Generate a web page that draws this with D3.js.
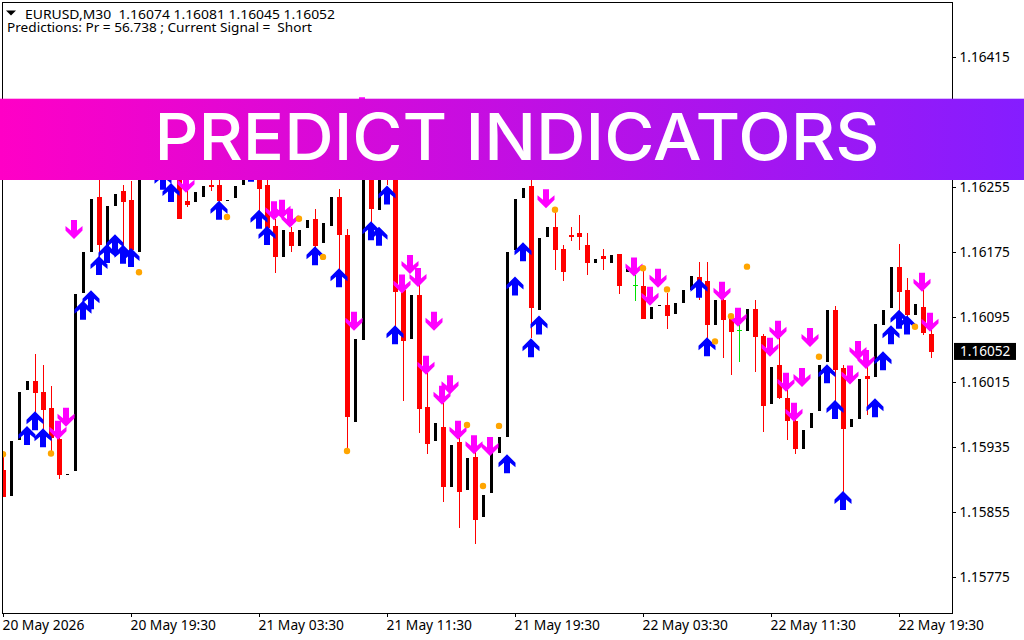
<!DOCTYPE html>
<html>
<head>
<meta charset="utf-8">
<title>Predict Indicators</title>
<script src="https://cdnjs.cloudflare.com/ajax/libs/d3/7.8.5/d3.min.js"></script>
<style>
html,body{margin:0;padding:0;background:#fff;}
svg{display:block;}
text{font-family:"Noto Sans",sans-serif;white-space:pre;}
</style>
</head>
<body>
<svg id="c" width="1024" height="640"></svg>
<script>
// Prices in points (1 point = 0.00001)
const opens=[115907,115875,115944,116005,116016,116003,115983,115945,115900,115905,116124,116175,116243,116178,116232,116250,116239,116175,116300,116320,116345,116310,116282,116238,116237,116243,116257,116257,116238,116241,116257,116278,116290,116257,116207,116169,116200,116182,116205,116216,116186,116207,116243,116196,115966,116067,116350,116227,116337,116300,116128,116068,116122,115984,115942,115960,115886,115941,115882,115923,115849,115878,115928,115947,116178,116241,116256,116104,116193,116206,116179,116196,116198,116184,116162,116170,116162,116173,116150,116134,116133,116092,116109,116110,116099,116112,116128,116144,116139,116085,116116,116092,116079,116078,116105,116072,115988,116036,115995,115967,115933,115958,115979,116040,116104,116032,115960,115969,116022,116021,116085,116106,116157,116128,116097,116107,116074];
const highs=[115923,115942,116003,116016,116050,116036,116010,115956,115902,116123,116175,116240,116276,116232,116246,116257,116262,116300,116325,116345,116360,116330,116300,116252,116249,116256,116266,116273,116239,116256,116278,116300,116300,116270,116216,116202,116206,116202,116214,116228,116211,116243,116253,116203,116068,116337,116360,116325,116345,116310,116137,116122,116134,116026,115965,115989,115938,115946,115921,115929,115876,115928,115947,116175,116240,116254,116270,116192,116206,116224,116184,116206,116221,116198,116166,116179,116171,116173,116155,116147,116153,116107,116110,116124,116112,116128,116145,116163,116163,116116,116122,116097,116085,116105,116116,116074,116033,116070,116005,115974,115956,115977,116036,116104,116109,116036,115969,116019,116038,116086,116104,116157,116185,116143,116111,116128,116081];
const lows=[115873,115875,115944,116005,115974,115956,115929,115896,115900,115905,116124,116175,116169,116178,116232,116180,116168,116175,116300,116320,116270,116265,116216,116230,116237,116243,116250,116236,116238,116241,116257,116278,116224,116200,116149,116169,116175,116182,116205,116178,116186,116207,116153,115930,115966,116067,116211,116227,116257,116083,115992,116068,115952,115926,115942,115867,115886,115835,115882,115816,115849,115878,115928,115947,116178,116241,116069,116104,116193,116153,116139,116188,116178,116147,116162,116153,116162,116123,116150,116115,116092,116092,116109,116080,116099,116112,116128,116116,116069,116085,116045,116024,116040,116078,116027,115953,115988,115994,115944,115926,115933,115958,115979,116040,115989,115880,115960,115969,115974,116021,116085,116106,116101,116094,116097,116073,116045];
const closes=[115873,115942,116003,116016,116001,115981,115946,115901,115902,116123,116175,116240,116184,116232,116246,116237,116178,116300,116325,116345,116310,116280,116216,116233,116249,116256,116255,116238,116239,116256,116278,116300,116253,116205,116169,116202,116182,116202,116214,116182,116211,116243,116196,115972,116068,116337,116228,116325,116276,116126,116065,116122,115982,115939,115965,115886,115938,115880,115921,115845,115876,115928,115947,116175,116240,116254,116106,116192,116206,116177,116150,116193,116193,116162,116166,116166,116171,116133,116155,116134,116092,116107,116110,116096,116112,116128,116145,116128,116085,116116,116091,116077,116079,116105,116070,115985,116033,115995,115967,115933,115956,115977,116036,116104,116030,115957,115969,116019,116019,116086,116104,116157,116126,116097,116111,116075,116052];
const upIdx=[3,4,5,10,11,12,13,14,15,16,20,21,27,31,32,33,39,42,46,47,48,49,63,64,65,66,67,87,88,103,104,105,109,110,111,112,113];
const upVal=[115961,115979,115958,116115,116128,116170,116185,116197,116184,116180,116275,116260,116238,116285,116227,116207,116182,116155,116213,116206,116257,116085,115926,116145,116187,116069,116097,116142,116070,116037,115993,115881,115995,116053,116085,116104,116097];
const dnIdx=[7,8,9,23,34,35,36,44,45,50,51,52,53,54,55,56,57,59,61,68,79,81,82,90,92,96,97,98,99,100,101,106,107,108,115,116];
const dnVal=[115944,115960,116191,116248,116214,116216,116205,116078,116342,116124,116148,116132,116024,116078,115987,116000,115944,115926,115924,116229,116145,116109,116131,116115,116083,116046,116067,116003,115966,116009,116058,116012,116042,116031,116126,116077];
const dotIdx=[0,6,17,28,37,40,43,58,60,62,69,80,83,89,91,93,102,114];
const dotVal=[115926,115927,116150,116218,116216,116169,115930,115962,115887,115961,116227,116155,116129,116065,116096,116157,116046,116083];
const timeIdx=[0,16,32,48,64,80,96,112];
const timeLabels=["20 May 2026","20 May 19:30","21 May 03:30","21 May 11:30","21 May 19:30","22 May 03:30","22 May 11:30","22 May 19:30"];
const priceTicks=[116415,116335,116255,116175,116095,116015,115935,115855,115775];
const lastPrice=116052;
const headerText="EURUSD,M30  1.16074 1.16081 1.16045 1.16052";
const signalText="Predictions: Pr = 56.738 ; Current Signal =  Short";
const bannerText="PREDICT INDICATORS";

const svg=d3.select("#c");
const x=d3.scaleLinear().domain([0,116]).range([3.5,931.5]);
const y=d3.scaleLinear().domain([116415,115775]).range([57,577]);
const fmt=d=>(d/1e5).toFixed(5);

const defs=svg.append("defs");
defs.append("clipPath").attr("id","plot").append("rect").attr("x",3).attr("y",3).attr("width",949).attr("height",610);
const g=defs.append("linearGradient").attr("id","band");
g.append("stop").attr("offset","0%").attr("stop-color","#ff00c6");
g.append("stop").attr("offset","100%").attr("stop-color","#851dff");

// frame
const frame=svg.append("g").attr("shape-rendering","crispEdges");
frame.append("rect").attr("x",2.5).attr("y",2.5).attr("width",950).attr("height",611).attr("fill","none").attr("stroke","#000");

// axes
const ay=d3.axisRight(y).tickValues(priceTicks).tickSize(3).tickPadding(4).tickFormat(fmt);
const yG=svg.append("g").attr("transform","translate(952.5,0)").call(ay);
yG.select(".domain").remove();
yG.selectAll("text").attr("font-size",13.6).attr("fill","#000").attr("style","font-family:'Noto Sans'");
yG.selectAll("line").attr("shape-rendering","crispEdges");

const ax=d3.axisBottom(x).tickValues(timeIdx).tickSize(3).tickPadding(4).tickFormat((d,i)=>timeLabels[i]);
const xG=svg.append("g").attr("transform","translate(-0.5,613.5)").call(ax);
xG.select(".domain").remove();
xG.selectAll("text").attr("font-size",13.8).attr("fill","#000").attr("text-anchor","start").attr("dx",-1);
xG.selectAll("line").attr("shape-rendering","crispEdges");

const plot=svg.append("g").attr("clip-path","url(#plot)");
const idx=d3.range(closes.length);
const kind=i=>closes[i]===opens[i]?"doji":(closes[i]>opens[i]?"up":"down");
const colour={up:"#000",down:"#ff0000",doji:"#00e000"};

// wicks
plot.append("g").attr("shape-rendering","crispEdges").selectAll("line").data(idx.filter(i=>kind(i)!=="up")).join("line")
  .attr("x1",i=>x(i)).attr("x2",i=>x(i)).attr("y1",i=>y(highs[i])).attr("y2",i=>y(lows[i]))
  .attr("stroke",i=>colour[kind(i)]);
// bodies
plot.append("g").attr("shape-rendering","crispEdges").selectAll("rect").data(idx).join("rect")
  .attr("x",i=>kind(i)==="up"?Math.floor(x(i))-1:Math.floor(x(i))-2)
  .attr("width",i=>kind(i)==="up"?3:5)
  .attr("y",i=>y(Math.max(opens[i],closes[i])))
  .attr("height",i=>Math.max(1,y(Math.min(opens[i],closes[i]))-y(Math.max(opens[i],closes[i]))))
  .attr("fill",i=>colour[kind(i)]);

// arrows: glyph outline relative to its tip
const glyph=[[0,0],[8.5,8.5],[8.5,13],[3,8.5],[3,19],[-3,19],[-3,8.5],[-8.5,13],[-8.5,8.5]];
const outline=d3.line().curve(d3.curveLinearClosed);
plot.append("g").selectAll("path").data(upIdx).join("path")
  .attr("d",outline(glyph))
  .attr("transform",(d,k)=>`translate(${x(d)-0.5},${y(upVal[k])})`)
  .attr("fill","#0000ff");
plot.append("g").selectAll("path").data(dnIdx).join("path")
  .attr("d",outline(glyph))
  .attr("transform",(d,k)=>`translate(${x(d)-1.5},${y(dnVal[k])}) scale(1,-1)`)
  .attr("fill","#ff00ff");
// orange dots
plot.append("g").selectAll("circle").data(dotIdx).join("circle")
  .attr("cx",d=>x(d)-0.5).attr("cy",(d,k)=>y(dotVal[k])).attr("r",3.2).attr("fill","#ffa500");

// last price label
svg.append("rect").attr("x",954).attr("y",y(lastPrice)-9).attr("width",62).attr("height",17).attr("fill","#000");
svg.append("text").attr("x",960).attr("y",y(lastPrice)+4.5).attr("font-size",13.6).attr("fill","#fff").text(fmt(lastPrice));

// header
svg.append("path").attr("d","M6,10.5L16,10.5L11,15.5Z").attr("fill","#000");
svg.append("text").attr("x",25).attr("y",19).attr("font-size",13).attr("fill","#000").attr("textLength",310).attr("lengthAdjust","spacingAndGlyphs").text(headerText);
svg.append("text").attr("x",7).attr("y",32).attr("font-size",13).attr("fill","#000").attr("textLength",305).attr("lengthAdjust","spacingAndGlyphs").text(signalText);

// banner
svg.append("rect").attr("x",0).attr("y",98).attr("width",1024).attr("height",1).attr("fill","url(#band)").attr("opacity",0.3);
svg.append("rect").attr("x",0).attr("y",99).attr("width",1024).attr("height",81).attr("fill","url(#band)");
svg.append("text").attr("x",154.5).attr("y",160).attr("textLength",725).attr("lengthAdjust","spacingAndGlyphs")
  .attr("font-size",65).attr("font-weight",550).attr("fill","#fff").attr("style","font-family:Inter").text(bannerText);
</script>
</body>
</html>
